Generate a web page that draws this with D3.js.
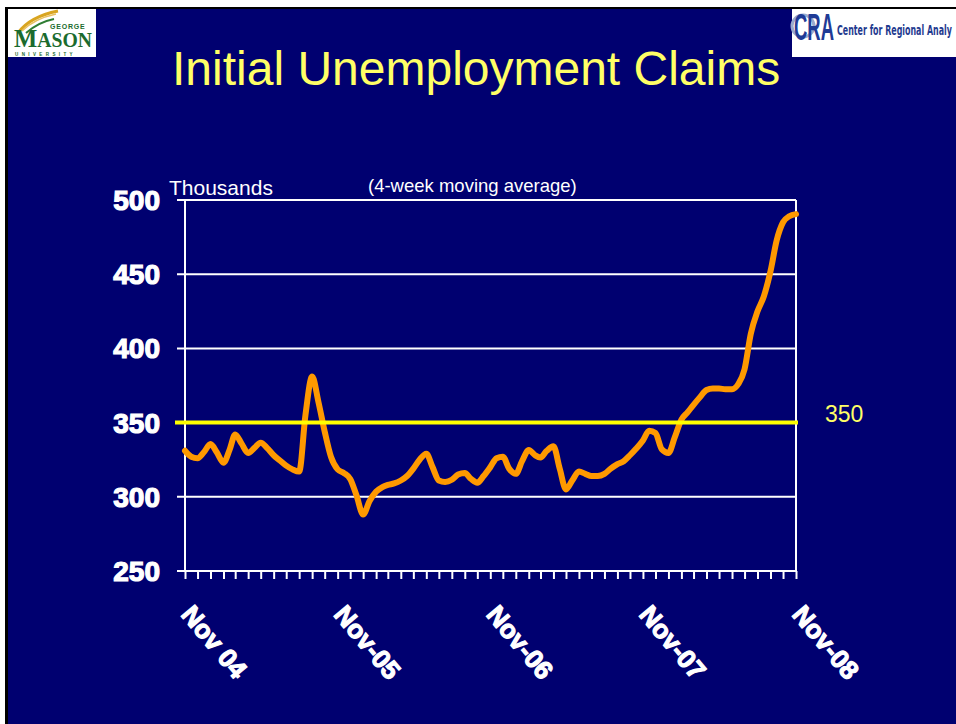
<!DOCTYPE html>
<html><head><meta charset="utf-8">
<script src="https://cdn.jsdelivr.net/npm/d3@7"></script>
<style>html,body{margin:0;padding:0;background:#fff;overflow:hidden}</style>
</head><body><svg id="chart" width="956" height="724"></svg>
<script>
// ---- data ----
const titleText = "Initial Unemployment Claims";
const unitLabel = "Thousands";
const subtitleText = "(4-week moving average)";
const yTicks = [250, 300, 350, 400, 450, 500];
const referenceValue = 350;
const referenceLabel = "350";
const xTickDates = ["2004-11-01", "2005-11-01", "2006-11-01", "2007-11-01", "2008-11-01"];
const xTickLabels = ["Nov 04", "Nov-05", "Nov-06", "Nov-07", "Nov-08"];
const startDate = "2004-11-01";
// semi-monthly readings (1st and 16th of each month), thousands
const claims = [
  331, 327, 326, 330, 335.5, 330, 323, 332, 342, 336,
  329.5, 333, 336.5, 333, 328, 324.5, 321, 318.5, 317, 355,
  381, 364, 344, 327, 318.5, 316, 312, 301, 288, 297,
  303.5, 306.5, 308, 309, 311, 314, 319, 325, 329, 320,
  311, 310, 311.5, 315, 316, 312, 309.5, 314, 320, 326,
  327, 319, 315.5, 324, 331.5, 328, 326.5, 331, 334, 319,
  305, 311, 317, 315.5, 314, 314, 315.5, 319, 322, 324,
  328, 332.5, 338, 344.5, 343, 332, 329.5, 340, 352, 357,
  362, 367, 372, 373, 373, 372.5, 372.5, 376, 386, 410,
  425, 435, 452, 473, 485, 489, 490.5
];

// ---- build ----
const parse = d3.utcParse("%Y-%m-%d");
const start = parse(startDate);
const series = claims.map((v, i) => {
  const m = d3.utcMonth.offset(start, Math.floor(i / 2));
  return { date: i % 2 ? d3.utcDay.offset(m, 15) : m, value: v };
});

const W = 956, H = 724;
const svg = d3.select("#chart");
const NAVY = "#000070";

// frame
svg.append("rect").attr("width", W).attr("height", H).attr("fill", "#fff");
svg.append("rect").attr("x", 5).attr("y", 7).attr("width", W).attr("height", H).attr("fill", "#000");
svg.append("rect").attr("x", 8).attr("y", 9).attr("width", W).attr("height", H).attr("fill", NAVY);

// helper: squeeze a text horizontally to a given width
function fitWidth(sel, x0, y0, width) {
  const w = sel.node().getComputedTextLength();
  sel.attr("transform", `translate(${x0},${y0}) scale(${width / w},1)`);
}

// GMU logo
const gmu = svg.append("g");
gmu.append("rect").attr("x", 8).attr("y", 9).attr("width", 88).attr("height", 48).attr("fill", "#fff");
gmu.append("path").attr("d", "M18,33 C26,22 38,15 58,11").attr("fill", "none").attr("stroke", "#d9a520").attr("stroke-width", 3);
gmu.append("path").attr("d", "M22,31 C30,23 42,17 56,14").attr("fill", "none").attr("stroke", "#e8c060").attr("stroke-width", 1.5);
gmu.append("path").attr("d", "M26,33 C34,26 44,21 54,19").attr("fill", "none").attr("stroke", "#2e7d32").attr("stroke-width", 2);
gmu.append("text").attr("x", 50).attr("y", 28.5).attr("font-family", "Liberation Sans, Arial, sans-serif")
  .attr("font-weight", "bold").attr("font-size", 7).attr("letter-spacing", 0.8).attr("fill", "#1b6b2e").text("GEORGE");
const mason = gmu.append("text").attr("font-family", "Liberation Serif, Times New Roman, serif")
  .attr("font-weight", "bold").attr("fill", "#1b6b2e");
mason.append("tspan").attr("font-size", 25).text("M");
mason.append("tspan").attr("font-size", 20).text("ASON");
fitWidth(mason, 14, 47, 78);
const univ = gmu.append("text").attr("font-family", "Liberation Sans, Arial, sans-serif")
  .attr("font-weight", "bold").attr("font-size", 4.5).attr("letter-spacing", 3.4).attr("fill", "#1b6b2e").text("UNIVERSITY");
univ.attr("x", 15).attr("y", 56.3);

// CRA logo
const cra = svg.append("g");
cra.append("rect").attr("x", 792).attr("y", 9).attr("width", 170).attr("height", 48).attr("fill", "#fff");
cra.append("circle").attr("cx", 803).attr("cy", 26).attr("r", 11).attr("fill", "none").attr("stroke", "#9aaad0").attr("stroke-width", 3);
const craText = cra.append("text").attr("font-family", "Liberation Sans, Arial, sans-serif")
  .attr("font-weight", "bold").attr("font-size", 36).attr("fill", "#1f3b96").text("CRA");
fitWidth(craText, 794, 40, 40);
const craName = cra.append("text").attr("font-family", "Liberation Sans Narrow, DejaVu Sans Condensed, Arial Narrow, sans-serif")
  .attr("font-weight", "bold").attr("font-size", 14).attr("fill", "#1f3b8f").text("Center for Regional Analy");
fitWidth(craName, 837, 35, 115);

// title
svg.append("text").attr("x", 172).attr("y", 85).attr("font-family", "Liberation Sans, Arial, sans-serif")
  .attr("font-size", 48).attr("fill", "#ffff66").text(titleText);

// scales
const x = d3.scaleUtc().domain([parse(xTickDates[0]), parse(xTickDates[xTickDates.length - 1])]).range([185, 796]);
const y = d3.scaleLinear().domain([250, 500]).range([571, 200]);

// gridlines & y labels
const grid = svg.append("g");
grid.selectAll("line.g").data(yTicks).join("line").attr("class", "g")
  .attr("x1", 177).attr("x2", 796).attr("y1", d => y(d)).attr("y2", d => y(d))
  .attr("stroke", "#fff").attr("stroke-width", 2);
grid.append("line").attr("x1", 185).attr("x2", 185).attr("y1", y(500)).attr("y2", y(250)).attr("stroke", "#fff").attr("stroke-width", 2);
grid.append("line").attr("x1", 796).attr("x2", 796).attr("y1", y(500)).attr("y2", y(250)).attr("stroke", "#fff").attr("stroke-width", 2);

svg.append("g").selectAll("text").data(yTicks).join("text")
  .attr("x", 160).attr("y", d => y(d)).attr("dy", "0.36em").attr("text-anchor", "end")
  .attr("font-family", "Liberation Sans, Arial, sans-serif").attr("font-weight", "bold").attr("font-size", 28)
  .attr("fill", "#fff").attr("stroke", "#fff").attr("stroke-width", 1.2).text(d => d);

// x axis ticks (monthly)
const xAxis = d3.axisBottom(x).ticks(d3.utcMonth.every(1)).tickSize(8).tickFormat("");
const gx = svg.append("g").attr("transform", `translate(0,${y(250)})`).call(xAxis);
gx.select(".domain").remove();
gx.selectAll(".tick line").attr("stroke", "#fff").attr("stroke-width", 2);

// x labels
svg.append("g").selectAll("text").data(xTickDates).join("text")
  .attr("transform", d => `translate(${x(parse(d)) - 5},${y(250) + 44}) rotate(50)`)
  .attr("font-family", "Liberation Sans, Arial, sans-serif").attr("font-weight", "bold").attr("font-size", 26)
  .attr("fill", "#fff").attr("stroke", "#fff").attr("stroke-width", 1.2)
  .text((d, i) => xTickLabels[i]);

// axis annotations
svg.append("text").attr("x", 169).attr("y", 195).attr("font-family", "Liberation Sans, Arial, sans-serif")
  .attr("font-size", 21).attr("fill", "#fff").text(unitLabel);
svg.append("text").attr("x", 368).attr("y", 192).attr("font-family", "Liberation Sans, Arial, sans-serif")
  .attr("font-size", 18.5).attr("fill", "#fff").text(subtitleText);

// data line
const line = d3.line().x(d => x(d.date)).y(d => y(d.value)).curve(d3.curveMonotoneX);
svg.append("path").datum(series).attr("d", line).attr("fill", "none")
  .attr("stroke", "#ff9900").attr("stroke-width", 6).attr("stroke-linecap", "round").attr("stroke-linejoin", "round");

// reference line
svg.append("line").attr("x1", 175).attr("x2", 798).attr("y1", y(referenceValue)).attr("y2", y(referenceValue))
  .attr("stroke", "#ffff00").attr("stroke-width", 4);
svg.append("text").attr("x", 825).attr("y", y(referenceValue) - 1).attr("font-family", "Liberation Sans, Arial, sans-serif")
  .attr("font-size", 23).attr("fill", "#ffff66").text(referenceLabel);
</script>
</body></html>
